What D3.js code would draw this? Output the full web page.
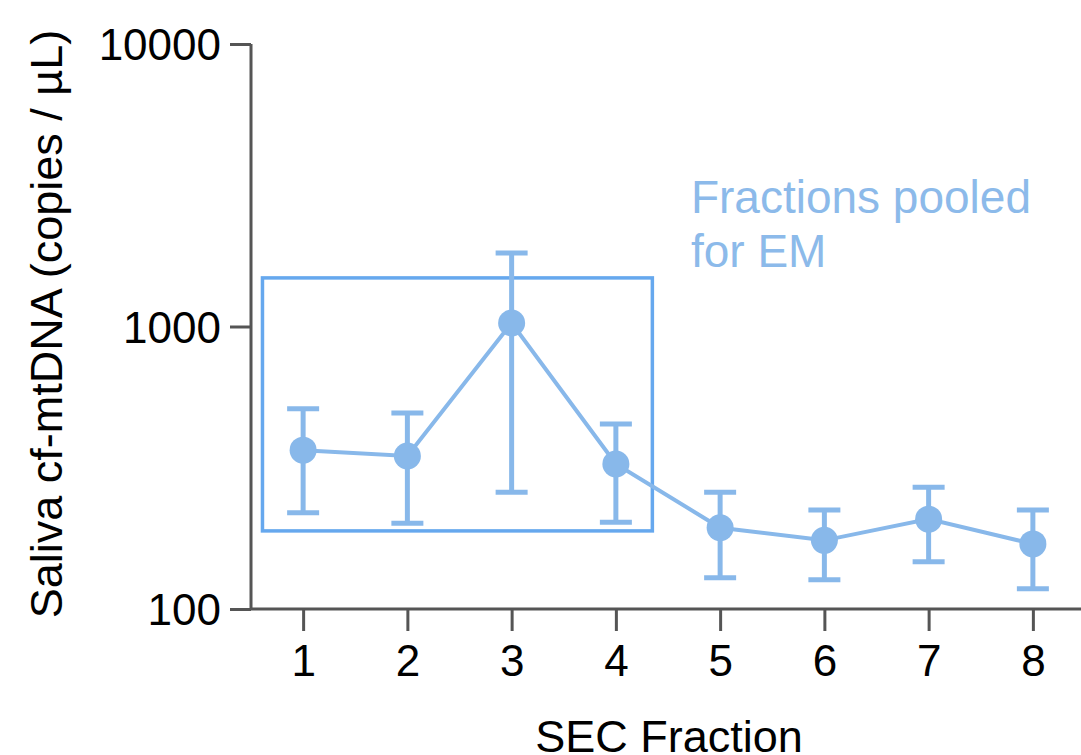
<!DOCTYPE html>
<html>
<head>
<meta charset="utf-8">
<script src="https://cdn.jsdelivr.net/npm/d3@7"></script>
<style>
  html, body { margin: 0; padding: 0; background: #fff; }
  svg { display: block; font-family: "Liberation Sans", Arial, sans-serif; }
</style>
</head>
<body>
<svg id="chart" width="1081" height="755"></svg>
<script>
// SEC fraction numbers
const fractions = [1, 2, 3, 4, 5, 6, 7, 8];
// mean copies / µL, with upper and lower error bar ends
const means = [365, 348, 1029, 326, 194, 175, 208, 170];
const upper = [511, 494, 1820, 452, 259, 224, 270, 224];
const lower = [219, 201, 259, 203, 129, 127, 147, 118];
// y tick values
const yTicks = [100, 1000, 10000];
// pooled box extent in data units: fractions and copies
const poolX = [0.61, 4.35];
const poolY = [189, 1486];
const noteLines = ['Fractions pooled', 'for EM'];

const blue = '#88b8ea';
const svg = d3.select('#chart');

const x = d3.scaleLinear().domain([0.5, 8.5]).range([251, 1085]);
const y = d3.scaleLog().domain([100, 10000]).range([609, 44]);

// axes
const yAxis = svg.append('g').attr('transform', 'translate(251,0)')
  .call(d3.axisLeft(y).tickValues(yTicks).tickFormat(d3.format('d')).tickSize(21).tickPadding(9));
const xAxis = svg.append('g').attr('transform', 'translate(0,609)')
  .call(d3.axisBottom(x).tickValues(fractions).tickFormat(d3.format('d')).tickSize(22).tickPadding(14));
xAxis.select('.domain').attr('d', 'M251,0H1081');
yAxis.select('.domain').attr('d', 'M0,44V609');
[xAxis, yAxis].forEach(a => {
  a.selectAll('.domain').attr('stroke', '#555').attr('stroke-width', 3);
  a.selectAll('.tick line').attr('stroke', '#555').attr('stroke-width', 3);
  a.selectAll('.tick text').attr('fill', '#000').style('font-size', '44px');
});
yAxis.selectAll('.tick text').attr('dy', '0.36em');

// axis titles
svg.append('text')
  .attr('transform', 'translate(62,324) rotate(-90)')
  .attr('text-anchor', 'middle')
  .style('font-size', '45px')
  .text('Saliva cf-mtDNA (copies / µL)');
svg.append('text')
  .attr('x', 669).attr('y', 752)
  .attr('text-anchor', 'middle')
  .style('font-size', '45px')
  .text('SEC Fraction');

// pooled box
svg.append('rect')
  .attr('x', x(poolX[0])).attr('y', y(poolY[1]))
  .attr('width', x(poolX[1]) - x(poolX[0]))
  .attr('height', y(poolY[0]) - y(poolY[1]))
  .attr('fill', 'none').attr('stroke', '#66a8ee').attr('stroke-width', 3.5);

// annotation
const note = svg.append('text')
  .attr('fill', '#8cbaea')
  .style('font-size', '46px');
note.selectAll('tspan').data(noteLines).enter().append('tspan')
  .attr('x', x(4.72)).attr('y', (d, i) => 213 + i * 54)
  .text(d => d);

const data = fractions.map((f, i) => ({ f, m: means[i], hi: upper[i], lo: lower[i] }));

// error bars
const eb = svg.append('g').attr('stroke', blue).attr('stroke-width', 5);
eb.selectAll('line.v').data(data).enter().append('line')
  .attr('x1', d => x(d.f)).attr('x2', d => x(d.f))
  .attr('y1', d => y(d.hi)).attr('y2', d => y(d.lo));
eb.selectAll('line.cap-hi').data(data).enter().append('line')
  .attr('x1', d => x(d.f) - 16).attr('x2', d => x(d.f) + 16)
  .attr('y1', d => y(d.hi)).attr('y2', d => y(d.hi));
eb.selectAll('line.cap-lo').data(data).enter().append('line')
  .attr('x1', d => x(d.f) - 16).attr('x2', d => x(d.f) + 16)
  .attr('y1', d => y(d.lo)).attr('y2', d => y(d.lo));

// connecting line
svg.append('path').datum(data)
  .attr('fill', 'none').attr('stroke', blue).attr('stroke-width', 4)
  .attr('d', d3.line().x(d => x(d.f)).y(d => y(d.m)));

// markers
svg.selectAll('circle.pt').data(data).enter().append('circle')
  .attr('class', 'pt')
  .attr('cx', d => x(d.f)).attr('cy', d => y(d.m)).attr('r', 13.5)
  .attr('fill', blue);
</script>
</body>
</html>
